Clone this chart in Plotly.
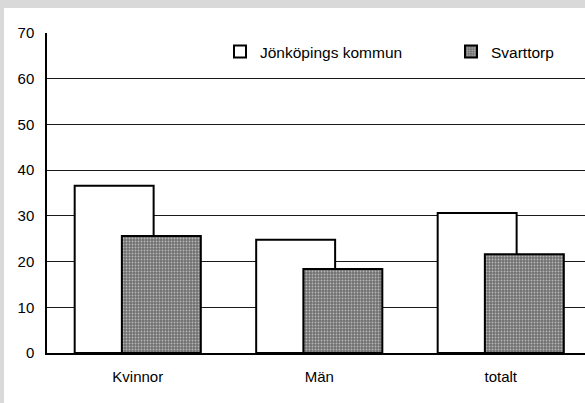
import plotly.graph_objects as go

categories = ["Kvinnor", "Män", "totalt"]
jonkoping = [36.6, 24.8, 30.6]
svarttorp = [25.6, 18.4, 21.6]
y_ticks = [0, 10, 20, 30, 40, 50, 60, 70]

W, H = 585, 403
L, T, B = 47, 33, 50
plot_w = W - L
plot_h = H - T - B
band = 181.5
x_span = plot_w / band

bar_w = 0.435
shift = 0.13

fig = go.Figure()
fig.add_trace(go.Bar(
    x=categories, y=jonkoping, name="Jönköpings kommun", legend="legend",
    width=bar_w, offset=-shift - bar_w / 2,
    marker=dict(color="white", line=dict(color="black", width=2)),
))
fig.add_trace(go.Bar(
    x=categories, y=svarttorp, name="Svarttorp", legend="legend2",
    width=bar_w, offset=shift - bar_w / 2,
    marker=dict(color="#858585", line=dict(color="black", width=2),
                pattern=dict(shape=".", fgcolor="#ffffff", bgcolor="#707070",
                             size=3, solidity=0.3)),
))

def px_x(p):
    return (p - L) / plot_w

def px_y(p):
    return 1 - (p - T) / plot_h

leg_y = px_y(52)
fig.update_layout(
    width=W, height=H,
    margin=dict(l=L, r=0, t=T, b=B, pad=0, autoexpand=False),
    paper_bgcolor="#d9d9d9", plot_bgcolor="white",
    barmode="overlay",
    font=dict(family="Liberation Sans, Arial, sans-serif", size=15, color="black"),
    showlegend=True,
    legend=dict(x=px_x(220), y=leg_y, xanchor="left", yanchor="middle",
                font=dict(size=15.5), bgcolor="rgba(0,0,0,0)", borderwidth=0),
    legend2=dict(x=px_x(451), y=leg_y, xanchor="left", yanchor="middle",
                 font=dict(size=15.5), bgcolor="rgba(0,0,0,0)", borderwidth=0),
    xaxis=dict(type="category", range=[-0.5, -0.5 + x_span],
               showline=True, linecolor="black", linewidth=2, mirror=False,
               showgrid=False, ticks="", ticklabelstandoff=9, fixedrange=True),
    yaxis=dict(range=[0, 70], tickvals=y_ticks, showgrid=True,
               gridcolor="#1a1a1a", gridwidth=1,
               showline=True, linecolor="black", linewidth=1.5,
               ticks="", ticklabelstandoff=8, zeroline=False, fixedrange=True),
    shapes=[
        dict(type="rect", xref="paper", yref="paper",
             x0=px_x(4), x1=px_x(W + 5), y0=px_y(H + 5), y1=px_y(8),
             fillcolor="white", line=dict(width=0), layer="below"),
    ],
)

fig.write_html(
    "out.html",
    config={"displayModeBar": False},
    post_script="document.body.style.margin='0';document.body.style.overflow='hidden';",
)
